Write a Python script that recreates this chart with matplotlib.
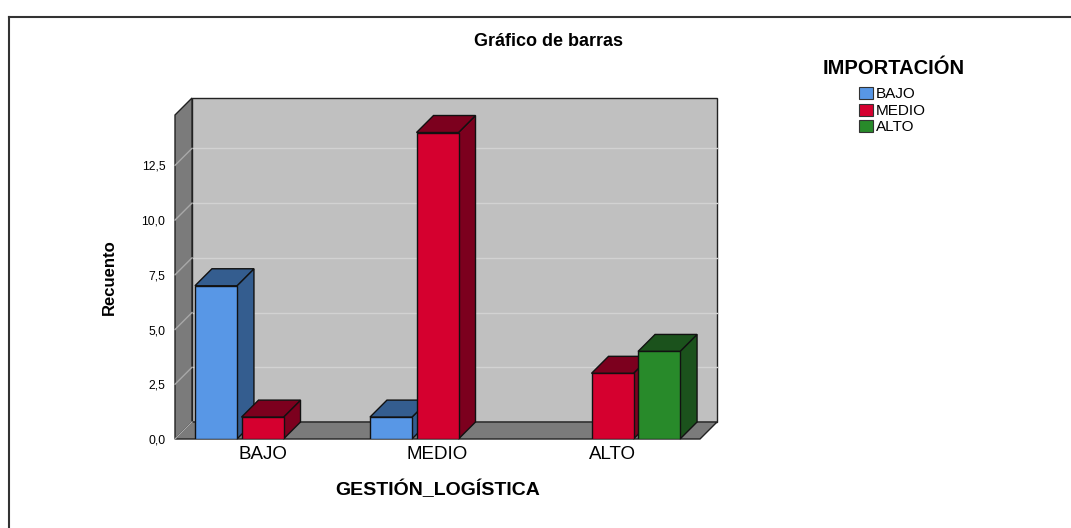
import matplotlib.pyplot as plt
from matplotlib.patches import Polygon, Patch
from matplotlib.lines import Line2D
import numpy as np

plt.rcParams['font.family'] = ['Liberation Sans', 'DejaVu Sans']

categories = ['BAJO', 'MEDIO', 'ALTO']
series_names = ['BAJO', 'MEDIO', 'ALTO']
counts_bajo = [7, 1, 0]
counts_medio = [1, 14, 3]
counts_alto = [0, 0, 4]
y_ticks = [0, 2.5, 5, 7.5, 10, 12.5]
y_tick_labels = ['0,0', '2,5', '5,0', '7,5', '10,0', '12,5']

front_colors = ['#5897e6', '#d5002f', '#288a2a']
dark_colors = ['#345d8f', '#7c001e', '#1b521c']

W, H = 1071, 528
fig = plt.figure(figsize=(W / 100, H / 100), dpi=100, facecolor='white')
# axes = front plane of the 3D box
ax = fig.add_axes([175 / W, (H - 439) / H, 525 / W, 324 / H])
xmin, xmax, ymax = -0.5, 2.5, 14.8
ax.set_xlim(xmin, xmax)
ax.set_ylim(0, ymax)
ax.set_facecolor('none')
for s in ax.spines.values():
    s.set_visible(False)

# depth offset (17 px) in data units
dx = 17 / (525 / (xmax - xmin))
dy = 17 / (324 / ymax)

wall_kw = dict(clip_on=False, edgecolor='#222222', linewidth=1.0)
# back wall, left wall, floor
ax.add_patch(Polygon([(xmin + dx, dy), (xmax + dx, dy), (xmax + dx, ymax + dy), (xmin + dx, ymax + dy)],
                     facecolor='#c0c0c0', zorder=0, **wall_kw))
ax.add_patch(Polygon([(xmin, 0), (xmin + dx, dy), (xmin + dx, ymax + dy), (xmin, ymax)],
                     facecolor='#7b7b7b', zorder=0.5, **wall_kw))
ax.add_patch(Polygon([(xmin, 0), (xmax, 0), (xmax + dx, dy), (xmin + dx, dy)],
                     facecolor='#7b7b7b', zorder=0.5, **wall_kw))

# gridlines on back and left walls
for v in y_ticks[1:]:
    ax.add_line(Line2D([xmin + dx, xmax + dx], [v + dy, v + dy], color='#d2d2d2', lw=1, zorder=0.2, clip_on=False))
    ax.add_line(Line2D([xmin, xmin + dx], [v, v + dy], color='#a8a8a8', lw=1, zorder=0.6, clip_on=False))
ax.add_line(Line2D([xmin, xmin + dx], [0, dy], color='#a8a8a8', lw=1, zorder=0.6, clip_on=False))

# bars
slot = 0.266
bw = 0.24
x = np.arange(len(categories))
series = [counts_bajo, counts_medio, counts_alto]
z = 2
for ci in range(len(categories)):
    for si, vals in enumerate(series):
        v = vals[ci]
        if v == 0:
            continue
        x0 = x[ci] + (si - 1) * slot - bw / 2
        ax.bar(x0, v, width=bw, align='edge', color=front_colors[si], edgecolor='#111111',
               linewidth=1.0, zorder=z + 1)
        ax.add_patch(Polygon([(x0 + bw, 0), (x0 + bw + dx, dy), (x0 + bw + dx, v + dy), (x0 + bw, v)],
                             facecolor=dark_colors[si], edgecolor='#111111', lw=1.0, zorder=z, clip_on=False))
        ax.add_patch(Polygon([(x0, v), (x0 + bw, v), (x0 + bw + dx, v + dy), (x0 + dx, v + dy)],
                             facecolor=dark_colors[si], edgecolor='#111111', lw=1.0, zorder=z, clip_on=False))
        z += 3

ax.set_yticks(y_ticks)
ax.set_yticklabels(y_tick_labels, fontsize=8.8)
ax.set_xticks(x)
ax.set_xticklabels(categories, fontsize=13.5)
ax.tick_params(axis='y', length=0, pad=7)
ax.tick_params(axis='x', length=0, pad=5)
ax.set_xlabel('GESTIÓN_LOGÍSTICA', fontsize=14, fontweight='bold', labelpad=13)
ax.set_ylabel('Recuento', fontsize=12, fontweight='bold', labelpad=18)

fig.text(548 / W, 1 - 41 / H, 'Gráfico de barras', fontsize=13, fontweight='bold', ha='center', va='center')

# legend: title as separate text, entries as a legend
fig.text(894 / W, 1 - 69 / H, 'IMPORTACIÓN', fontsize=14.5, fontweight='bold', ha='center', va='center')
handles = [Patch(facecolor=c, edgecolor='#333333', linewidth=0.8) for c in front_colors]
leg = fig.legend(handles, series_names, loc='upper left',
                 bbox_to_anchor=(859 / W, 1 - 87 / H), frameon=False, fontsize=11,
                 handlelength=0.92, handleheight=0.85, handletextpad=0.2, labelspacing=0.14,
                 borderpad=0, borderaxespad=0)

# outer frame (top and left lines only)
fig.add_artist(Line2D([9 / W, 1], [1 - 17 / H, 1 - 17 / H], color='#333333', lw=1.5, transform=fig.transFigure))
fig.add_artist(Line2D([9 / W, 9 / W], [0, 1 - 17 / H], color='#333333', lw=1.5, transform=fig.transFigure))

fig.savefig('out.png', dpi=100, facecolor='white')
